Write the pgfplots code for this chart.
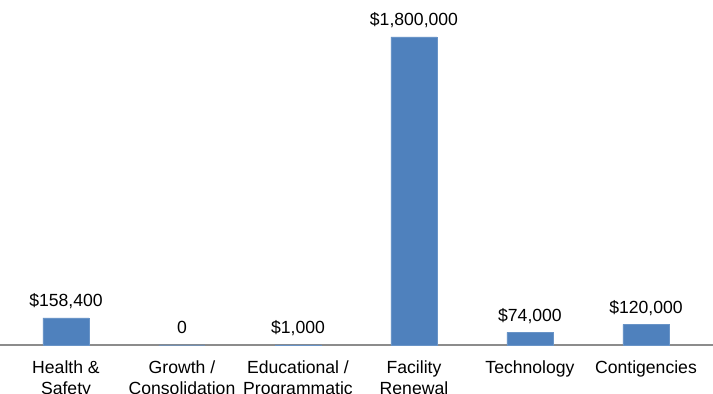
\documentclass[border=0pt]{standalone}
\usepackage{fontspec}
\setmainfont{Liberation Sans}
\usepackage{pgfplots}
\pgfplotsset{compat=1.18}
\definecolor{barblue}{HTML}{4F81BD}
\definecolor{axgray}{HTML}{8C8C8C}
\begin{document}
\begin{tikzpicture}[x=0.75pt,y=0.75pt]
\begin{axis}[
  name=ax,
  scale only axis,
  width=534.75pt, height=258.75pt,
  xmin=-0.569, xmax=5.578,
  ymin=0, ymax=2016234,
  axis x line*=bottom,
  axis y line=none,
  x axis line style={axgray, line width=0.8pt, -},
  xtick=data,
  major tick length=0pt,
  xticklabels={{Health \&\\Safety},{Growth /\\Consolidation},{Educational /\\Programmatic},{Facility\\Renewal},{Technology},{Contigencies}},
  xticklabel style={align=center, font=\fontsize{13.2}{15.5}\selectfont, anchor=north, yshift=-8.5pt},
  ytick=\empty,
  ybar, bar width=34.5pt,
  point meta=explicit symbolic,
  nodes near coords,
  every node near coord/.append style={font=\fontsize{13.2}{15.5}\selectfont, anchor=base, inner sep=0pt, yshift=8.25pt},
  clip=false,
]
\addplot[fill=barblue, draw=barblue!85!white] coordinates {
  (0,158400) [\$158,400]
  (1,0) [0]
  (2,1000) [\$1,000]
  (3,1800000) [\$1,800,000]
  (4,74000) [\$74,000]
  (5,120000) [\$120,000]
};
\end{axis}
\pgfresetboundingbox
\path (ax.south west) ++(0,-36.75pt) rectangle (ax.north east);
\end{tikzpicture}
\end{document}
